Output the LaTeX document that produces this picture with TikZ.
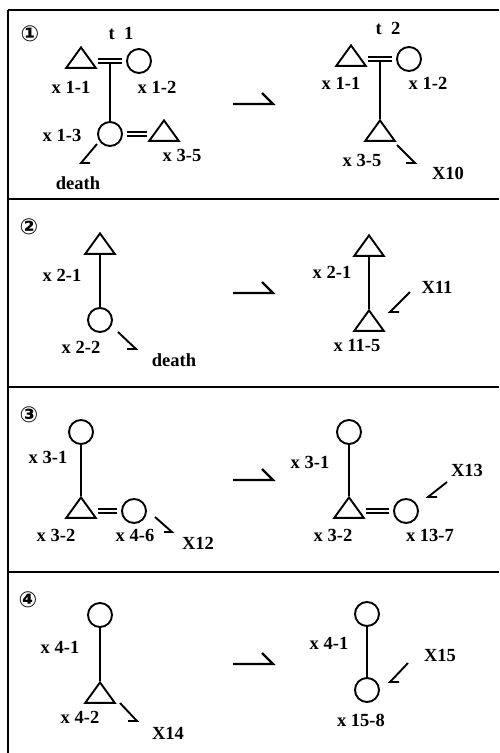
\documentclass[tikz,border=0pt]{standalone}
\usepackage{fontspec}
\setmainfont{Liberation Serif}
\newfontfamily\circfont{DejaVu Sans}
\usetikzlibrary{shapes.geometric,calc}
\tikzset{
  frame/.style={line width=2.2pt},
  shp/.style={draw, line width=1.9pt, inner sep=0pt},
  circ/.style={shp, circle, minimum size=24pt},
  tri/.style={shp, regular polygon, regular polygon sides=3, minimum size=34pt, yscale=0.8, transform shape},
  lbl/.style={font=\bfseries\fontsize{18.5}{20}\selectfont, inner sep=0pt},
  num/.style={font=\circfont\bfseries\fontsize{22}{22}\selectfont, inner sep=0pt},
  marr/.style={double, double distance=2.8pt, line width=1.8pt, shorten <=6pt, shorten >=4pt},
  marrc/.style={marr, shorten <=4pt, shorten >=6pt},
  tie/.style={line width=1.6pt},
  harp/.style={line width=1.9pt},
  big/.style={line width=2.2pt}
}
\begin{document}
\begin{tikzpicture}[x=1pt,y=-1pt]
\useasboundingbox (0,0) rectangle (499,753);
% frame
\coordinate (fl0) at (8,10);
\coordinate (fl1) at (8,753);
\draw[frame] (fl0) -- (fl1);
\foreach \yy/\nm in {10/h0,199/h1,387/h2,572/h3}{
  \coordinate (\nm a) at (8,\yy);
  \coordinate (\nm b) at (499,\yy);
  \draw[frame] (\nm a) -- (\nm b);
}
% big arrows
\foreach \yy/\nm in {104/A1,293/A2,480/A3,664/A4}{
  \coordinate (\nm s) at (233,\yy);
  \coordinate (\nm e) at (273,\yy);
  \coordinate (\nm b) at (262,\yy-11);
  \draw[big] (\nm s) -- (\nm e) -- (\nm b);
}

% ===== Panel 1 =====
\node[num] (n1) at (30,34) {①};
\node[lbl] (t1) at (121,33) {t\enspace1};
\node[tri] (a1) at (81,61) {};
\node[circ] (a2) at (139,61) {};
\node[circ] (a3) at (110,134) {};
\node[tri] (a4) at (164,134) {};
\draw[marr] (a1) -- (a2);
\draw[tie] ($(a1)!0.5!(a2)+(0,2)$) -- (a3);
\draw[marrc] (a3) -- (a4);
\node[lbl] (la1) at (71,87) {x 1-1};
\node[lbl] (la2) at (157,87) {x 1-2};
\node[lbl] (la3) at (62,135) {x 1-3};
\node[lbl] (la4) at (182,155) {x 3-5};
\node[lbl] (ld1) at (78,183) {death};
\coordinate (p1s) at (97,144);
\coordinate (p1e) at (81,163);
\draw[harp] (p1s) -- (p1e) -- ++(9,0);

\node[lbl] (t2) at (388,28) {t\enspace2};
\node[tri] (b1) at (351,59) {};
\node[circ] (b2) at (409,59) {};
\node[tri] (b3) at (380,134) {};
\draw[marr] (b1) -- (b2);
\draw[tie] ($(b1)!0.5!(b2)+(0,2)$) -- (b3);
\node[lbl] (lb1) at (341,83) {x 1-1};
\node[lbl] (lb2) at (428,83) {x 1-2};
\node[lbl] (lb3) at (362,160) {x 3-5};
\node[lbl] (lb4) at (448,173) {X10};
\coordinate (q1s) at (397,145);
\coordinate (q1e) at (415,163);
\draw[harp] (q1s) -- (q1e) -- ++(-9,0);

% ===== Panel 2 =====
\node[num] (n2) at (29,227) {②};
\node[tri] (c1) at (100,247) {};
\node[circ] (c2) at (100,320) {};
\draw[tie] (c1) -- (c2);
\node[lbl] (lc1) at (62,275) {x 2-1};
\node[lbl] (lc2) at (81,347) {x 2-2};
\node[lbl] (ld2) at (174,360) {death};
\coordinate (p2s) at (118,332);
\coordinate (p2e) at (136,349);
\draw[harp] (p2s) -- (p2e) -- ++(-9,0);

\node[tri] (d1) at (369,249) {};
\node[tri] (d2) at (369,324) {};
\draw[tie] (d1) -- (d2);
\node[lbl] (ld3) at (332,272) {x 2-1};
\node[lbl] (ld4) at (357,345) {x 11-5};
\node[lbl] (ld5) at (437,287) {X11};
\coordinate (q2s) at (410,292);
\coordinate (q2e) at (390,312);
\draw[harp] (q2s) -- (q2e) -- ++(9,0);

% ===== Panel 3 =====
\node[num] (n3) at (29,415) {③};
\node[circ] (e1) at (81,432) {};
\node[tri] (e2) at (81,511) {};
\node[circ] (e3) at (134,511) {};
\draw[tie] (e1) -- (e2);
\draw[marr] (e2) -- (e3);
\node[lbl] (le1) at (48,457) {x 3-1};
\node[lbl] (le2) at (56,535) {x 3-2};
\node[lbl] (le3) at (135,535) {x 4-6};
\node[lbl] (le4) at (198,543) {X12};
\coordinate (p3s) at (155,517);
\coordinate (p3e) at (172,532);
\draw[harp] (p3s) -- (p3e) -- ++(-8,0);

\node[circ] (f1) at (349,432) {};
\node[tri] (f2) at (349,511) {};
\node[circ] (f3) at (406,511) {};
\draw[tie] (f1) -- (f2);
\draw[marr] (f2) -- (f3);
\node[lbl] (lf1) at (310,462) {x 3-1};
\node[lbl] (lf2) at (333,535) {x 3-2};
\node[lbl] (lf3) at (430,535) {x 13-7};
\node[lbl] (lf4) at (467,470) {X13};
\coordinate (q3s) at (447,482);
\coordinate (q3e) at (428,497);
\draw[harp] (q3s) -- (q3e) -- ++(9,0);

% ===== Panel 4 =====
\node[num] (n4) at (28,600) {④};
\node[circ] (g1) at (100,615) {};
\node[tri] (g2) at (100,696) {};
\draw[tie] (g1) -- (g2);
\node[lbl] (lg1) at (60,647) {x 4-1};
\node[lbl] (lg2) at (80,717) {x 4-2};
\node[lbl] (lg3) at (168,733) {X14};
\coordinate (p4s) at (120,703);
\coordinate (p4e) at (137,721);
\draw[harp] (p4s) -- (p4e) -- ++(-9,0);

\node[circ] (k1) at (367,614) {};
\node[circ] (k2) at (367,690) {};
\draw[tie] (k1) -- (k2);
\node[lbl] (lk1) at (329,643) {x 4-1};
\node[lbl] (lk2) at (361,720) {x 15-8};
\node[lbl] (lk3) at (440,655) {X15};
\coordinate (q4s) at (408,663);
\coordinate (q4e) at (390,682);
\draw[harp] (q4s) -- (q4e) -- ++(9,0);
\end{tikzpicture}
\end{document}
